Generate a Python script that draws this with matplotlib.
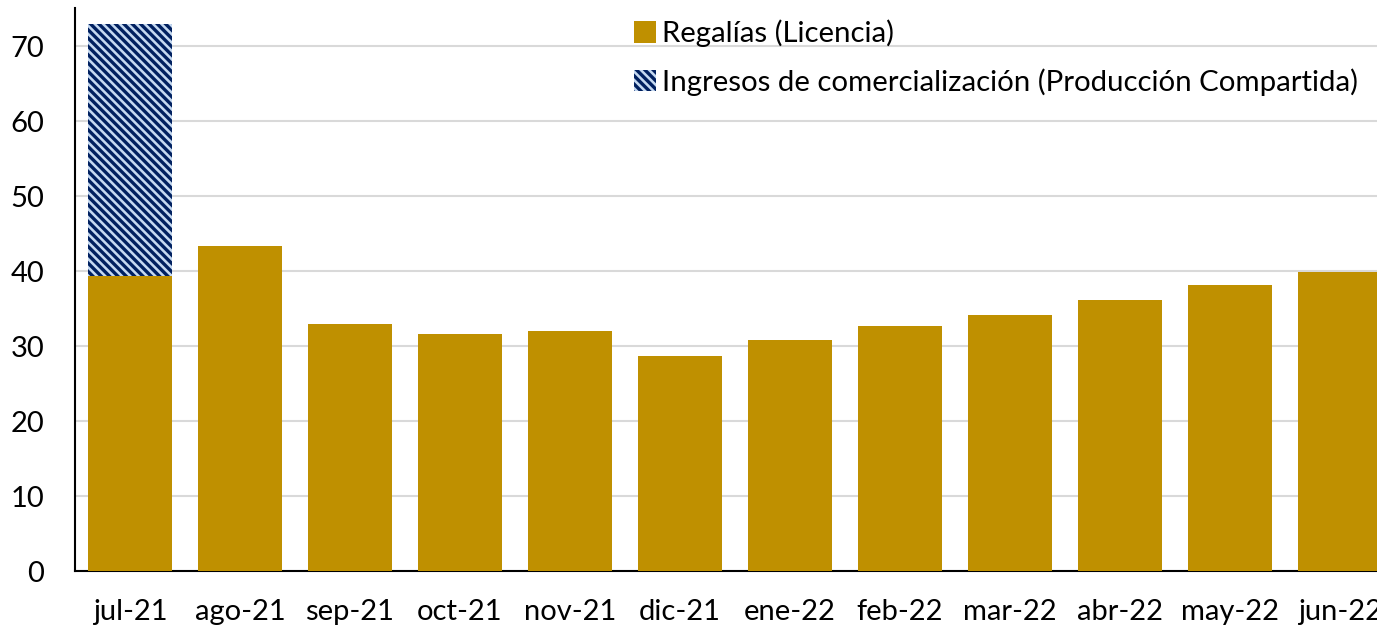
import matplotlib
matplotlib.use("Agg")
import matplotlib.pyplot as plt
from matplotlib.patches import Patch

categories = ["jul-21", "ago-21", "sep-21", "oct-21", "nov-21", "dic-21",
              "ene-22", "feb-22", "mar-22", "abr-22", "may-22", "jun-22"]
regalias = [39.3, 43.3, 32.9, 31.6, 32.0, 28.7, 30.8, 32.7, 34.1, 36.1, 38.1, 39.9]
ingresos = [33.6, 0, 0, 0, 0, 0, 0, 0, 0, 0, 0, 0]
yticks = [0, 10, 20, 30, 40, 50, 60, 70]

plt.rcParams['font.family'] = ['Lato', 'DejaVu Sans']
plt.rcParams['hatch.linewidth'] = 2.4

fig = plt.figure(figsize=(13.77, 6.27), dpi=100)
ax = fig.add_axes([75/1377, 56/627, 1320/1377, 563/627])

gold = "#BF9000"
hatch = "\\\\\\\\"
x = list(range(len(categories)))
ax.bar(x, regalias, width=0.764, color=gold, zorder=3, label="Regalías (Licencia)")
ax.bar(x, ingresos, width=0.764, bottom=regalias, facecolor="#C5D9F1",
       edgecolor="#002060", hatch=hatch, linewidth=0, zorder=3,
       label="Ingresos de comercialización (Producción Compartida)")

ax.set_xlim(-0.5, 11.5)
ax.set_ylim(0, 75.07)
ax.set_yticks(yticks)
ax.set_xticks(x)
ax.set_xticklabels(categories)
ax.tick_params(axis='both', length=0, labelsize=21)
ax.tick_params(axis='x', pad=20)
ax.tick_params(axis='y', pad=22)
ax.yaxis.grid(True, color="#D9D9D9", linewidth=1.5, zorder=0)
ax.set_axisbelow(True)
for s in ["top", "right"]:
    ax.spines[s].set_visible(False)
ax.spines["left"].set_linewidth(1.5)
ax.spines["bottom"].set_linewidth(1.5)

handles = [Patch(facecolor=gold, label="Regalías (Licencia)"),
           Patch(facecolor="#C5D9F1", edgecolor="#002060", hatch=hatch, linewidth=0,
                 label="Ingresos de comercialización (Producción Compartida)")]
fig.legend(handles=handles, loc="upper left", bbox_to_anchor=(622/1377, 1 - 8/627),
           frameon=False, fontsize=21.2, handlelength=0.75, handleheight=0.75,
           handletextpad=0.2, labelspacing=0.7, borderaxespad=0)

fig.savefig("out.png", dpi=100)
